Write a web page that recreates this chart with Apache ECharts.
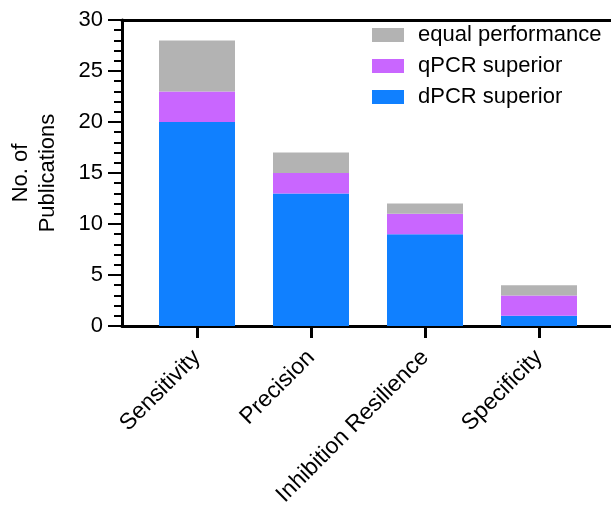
<!DOCTYPE html>
<html>
<head>
<meta charset="utf-8">
<script src="https://cdn.jsdelivr.net/npm/echarts@6/dist/echarts.min.js"></script>
<style>html,body{margin:0;padding:0;background:#fff}#c{width:611px;height:505px}</style>
</head>
<body>
<div id="c"></div>
<script>
var categories = ['Sensitivity', 'Precision', 'Inhibition Resilience', 'Specificity'];
var dPCR = [20, 13, 9, 1];
var qPCR = [3, 2, 2, 2];
var equal = [5, 2, 1, 1];
var yTicks = [0, 5, 10, 15, 20, 25, 30];

var FONT = '"Liberation Sans", Arial, sans-serif';
var FS = 22;
var chart = echarts.init(document.getElementById('c'), null, {renderer: 'canvas'});
var lineStyle = {color: '#000', width: 3};
var tickStyle = {color: '#000', width: 2};
chart.setOption({
  animation: false,
  textStyle: {fontFamily: FONT},
  grid: [
    {left: 122, top: 20, right: 0, bottom: 179, outerBoundsMode: 'none'},
    {left: 140, top: 20, width: 456, bottom: 179, outerBoundsMode: 'none'}
  ],
  legend: {
    data: ['equal performance', 'qPCR superior', 'dPCR superior'],
    orient: 'vertical', left: 367, top: 19,
    itemWidth: 32, itemHeight: 14, itemGap: 9,
    icon: 'rect',
    textStyle: {fontSize: FS, color: '#000', fontFamily: FONT, padding: [0, 0, 0, 9]}
  },
  xAxis: [
    {gridIndex: 0, type: 'value', min: 0, max: 1, position: 'bottom',
     axisLine: {show: true, lineStyle: lineStyle}, axisTick: {show: false},
     axisLabel: {show: false}, splitLine: {show: false}},
    {gridIndex: 0, type: 'value', min: 0, max: 1, position: 'top',
     axisLine: {show: true, lineStyle: lineStyle}, axisTick: {show: false},
     axisLabel: {show: false}, splitLine: {show: false}},
    {gridIndex: 1, type: 'category', data: categories,
     axisLine: {show: false},
     axisTick: {show: true, alignWithLabel: true, length: 12, lineStyle: lineStyle},
     axisLabel: {rotate: 45, fontSize: 23, color: '#000', margin: 28, interval: 0, fontFamily: FONT},
     splitLine: {show: false}}
  ],
  yAxis: [
    {gridIndex: 0, type: 'value', min: 0, max: 30, interval: 5,
     name: 'No. of\nPublications', nameLocation: 'middle', nameRotate: 90, nameGap: 61,
     nameTextStyle: {fontSize: FS, color: '#000', lineHeight: 27, fontFamily: FONT},
     axisLine: {show: true, lineStyle: lineStyle},
     axisTick: {show: true, length: 14, lineStyle: tickStyle},
     minorTick: {show: true, splitNumber: 5, length: 8, lineStyle: tickStyle},
     axisLabel: {fontSize: FS, color: '#000', margin: 19, fontFamily: FONT,
                 customValues: yTicks},
     splitLine: {show: false}, minorSplitLine: {show: false}},
    {gridIndex: 1, type: 'value', min: 0, max: 30, show: false}
  ],
  series: [
    {name: 'dPCR superior', type: 'bar', stack: 's', xAxisIndex: 2, yAxisIndex: 1,
     barWidth: 76, data: dPCR, itemStyle: {color: '#1080ff'}},
    {name: 'qPCR superior', type: 'bar', stack: 's', xAxisIndex: 2, yAxisIndex: 1,
     barWidth: 76, data: qPCR, itemStyle: {color: '#c966ff'}},
    {name: 'equal performance', type: 'bar', stack: 's', xAxisIndex: 2, yAxisIndex: 1,
     barWidth: 76, data: equal, itemStyle: {color: '#b3b3b3'}}
  ]
});
</script>
</body>
</html>
